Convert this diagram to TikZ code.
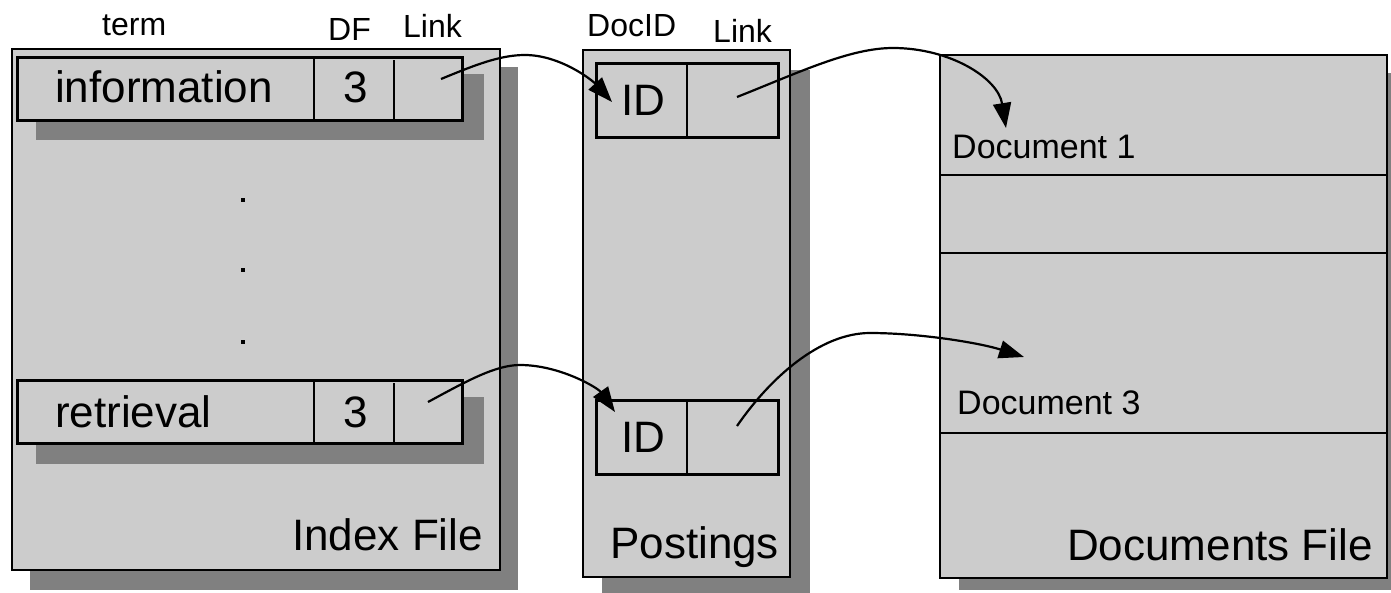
\documentclass[tikz,border=0pt]{standalone}
\usepackage{fontspec}
\setmainfont{Liberation Sans}
\usetikzlibrary{arrows.meta}
\definecolor{panelgray}{RGB}{204,204,204}
\definecolor{shadowgray}{RGB}{128,128,128}
\tikzset{
  dropshadow/.style={fill=shadowgray, draw=none},
  panel/.style={fill=panelgray, draw=black, line width=2.5pt},
  cellrow/.style={fill=panelgray, draw=black, line width=3pt},
  thinrule/.style={draw=black, line width=1.6pt},
  rule/.style={draw=black, line width=2.5pt},
  biglabel/.style={font=\fontsize{44}{50}\selectfont, anchor=base west, inner sep=0pt},
  header/.style={font=\fontsize{32}{38}\selectfont, anchor=base west, inner sep=0pt},
  doclabel/.style={font=\fontsize{34}{40}\selectfont, anchor=base west, inner sep=0pt},
  pointer/.style={draw=black, line width=2.2pt, -{Triangle[length=25pt,width=18pt]}},
}
\begin{document}
\begin{tikzpicture}[x=1pt, y=-1pt]
\useasboundingbox (0,0) rectangle (1391,592);

% ---------- Index File ----------
\path[dropshadow] (30,67) rectangle (518,590);
\path[panel] (12,49) rectangle (500,570);
\path[dropshadow] (36,74) rectangle (484,140);
\path[cellrow] (17,57) rectangle (462,120);
\draw[thinrule] (314,57) -- (314,120);
\draw[rule] (394,60) -- (394,120);
\path[dropshadow] (36,397) rectangle (484,464);
\path[cellrow] (17,380) rectangle (462,443);
\draw[thinrule] (314,380) -- (314,443);
\draw[rule] (394,383) -- (394,443);
\foreach \yy in {200,270,342}
  \fill (241,\yy-2) rectangle (245,\yy+2);

\node[header] (hterm) at (102,35) {term};
\node[header] (hdf) at (328,40) {DF};
\node[header] (hlink) at (403,37) {Link};
\node[biglabel] (tinfo) at (55,102) {information};
\node[biglabel] (dfinfo) at (343,102) {3};
\node[biglabel] (tretr) at (55,427) {retrieval};
\node[biglabel] (dfretr) at (343,427) {3};
\node[biglabel] (lindex) at (292,550) {Index File};

% ---------- Postings ----------
\path[dropshadow] (602,70) rectangle (810,597);
\path[panel] (583,50) rectangle (790,577);
\path[cellrow] (596,63) rectangle (778,137);
\draw[rule] (687,63) -- (687,137);
\path[cellrow] (596,400) rectangle (778,474);
\draw[rule] (687,400) -- (687,474);

\node[header] (hdocid) at (587,36) {DocID};
\node[header] (hlinkp) at (713,42) {Link};
\node[biglabel] (idone) at (621,115) {ID};
\node[biglabel] (idtwo) at (621,452) {ID};
\node[biglabel] (lpost) at (610,558) {Postings};

% ---------- Documents File ----------
\path[dropshadow] (959,73) rectangle (1406,590);
\path[panel] (940,55) rectangle (1387,578);
\draw[rule] (940,175) -- (1387,175);
\draw[rule] (940,253) -- (1387,253);
\draw[rule] (940,433) -- (1387,433);

\node[doclabel] (docone) at (952,158) {Document 1};
\node[doclabel] (docthree) at (957,414) {Document 3};
\node[biglabel] (ldocs) at (1067,560) {Documents File};

% ---------- pointers ----------
\coordinate (srcinfo) at (441,79);
\coordinate (srcretr) at (428,402);
\coordinate (srcpone) at (737,97);
\coordinate (srcptwo) at (737,426);
\coordinate (dstpone) at (612,102);
\coordinate (dstptwo) at (615,412);
\coordinate (dstdone) at (1006,128);
\coordinate (dstdthree) at (1024,357);

\draw[pointer] (srcinfo) .. controls (475,65) and (500,55) .. (525,55)
  .. controls (560,55) and (592,80) .. (dstpone);
\draw[pointer] (srcretr) .. controls (465,382) and (495,365) .. (520,365)
  .. controls (560,365) and (598,388) .. (dstptwo);
\draw[pointer] (srcpone) .. controls (800,72) and (850,48) .. (893,48)
  .. controls (950,48) and (998,78) .. (dstdone);
\draw[pointer] (srcptwo) .. controls (770,378) and (820,333) .. (870,333)
  .. controls (920,333) and (980,343) .. (dstdthree);
\end{tikzpicture}
\end{document}
